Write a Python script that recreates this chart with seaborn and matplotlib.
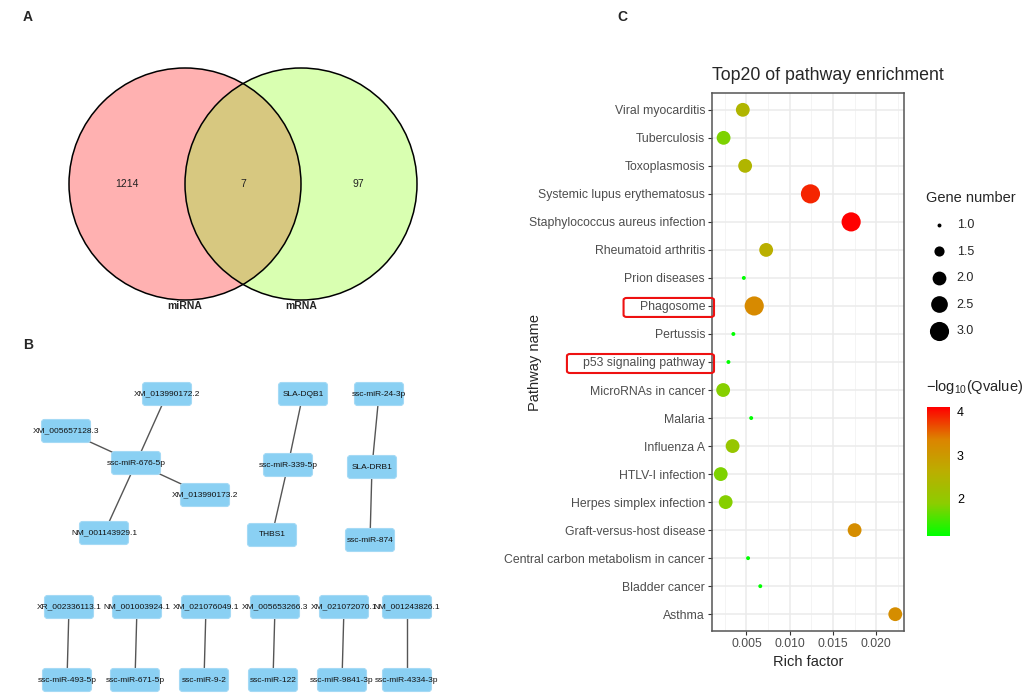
import numpy as np
import pandas as pd
import matplotlib
matplotlib.use('Agg')
import matplotlib.pyplot as plt
from matplotlib.colors import LinearSegmentedColormap, Normalize
from matplotlib.patches import Circle, FancyBboxPatch
import seaborn as sns

# ---------------- data ----------------
# A: venn
venn_sets = ['miRNA', 'mRNA']
venn_counts = [1214, 7, 97]  # only miRNA, both, only mRNA

# B: miRNA-mRNA network (edges)
net_edges = [
    ('ssc-miR-676-5p', 'XM_013990172.2'),
    ('ssc-miR-676-5p', 'XM_005657128.3'),
    ('ssc-miR-676-5p', 'XM_013990173.2'),
    ('ssc-miR-676-5p', 'NM_001143929.1'),
    ('SLA-DQB1', 'ssc-miR-339-5p'),
    ('ssc-miR-339-5p', 'THBS1'),
    ('ssc-miR-24-3p', 'SLA-DRB1'),
    ('SLA-DRB1', 'ssc-miR-874'),
    ('XR_002336113.1', 'ssc-miR-493-5p'),
    ('NM_001003924.1', 'ssc-miR-671-5p'),
    ('XM_021076049.1', 'ssc-miR-9-2'),
    ('XM_005653266.3', 'ssc-miR-122'),
    ('XM_021072070.1', 'ssc-miR-9841-3p'),
    ('NM_001243826.1', 'ssc-miR-4334-3p'),
]

# C: pathway enrichment
pathways = ['Viral myocarditis', 'Tuberculosis', 'Toxoplasmosis',
            'Systemic lupus erythematosus', 'Staphylococcus aureus infection',
            'Rheumatoid arthritis', 'Prion diseases', 'Phagosome', 'Pertussis',
            'p53 signaling pathway', 'MicroRNAs in cancer', 'Malaria',
            'Influenza A', 'HTLV-I infection', 'Herpes simplex infection',
            'Graft-versus-host disease', 'Central carbon metabolism in cancer',
            'Bladder cancer', 'Asthma']
rich_factor = [0.00458, 0.00236, 0.00485, 0.0124, 0.0171, 0.00728, 0.0047,
               0.0059, 0.00349, 0.00292, 0.00231, 0.00555, 0.0034, 0.00203,
               0.0026, 0.0175, 0.00519, 0.0066, 0.0222]
gene_number = [2, 2, 2, 3, 3, 2, 1, 3, 1, 1, 2, 1, 2, 2, 2, 2, 1, 1, 2]
neg_log_q = [2.45, 1.8, 2.45, 3.9, 4.11, 2.6, 1.13, 3.25, 1.13, 1.13, 1.85,
             1.13, 2.05, 1.8, 1.85, 3.2, 1.13, 1.13, 3.2]
highlighted = ['Phagosome', 'p53 signaling pathway']

# ---------------- layout (pixel coords for panels A/B) ----------------
node_pos = {
    'XM_013990172.2': (167, 394), 'XM_005657128.3': (66, 431),
    'ssc-miR-676-5p': (136, 463), 'XM_013990173.2': (205, 495),
    'NM_001143929.1': (104, 533),
    'SLA-DQB1': (303, 394), 'ssc-miR-339-5p': (288, 465), 'THBS1': (272, 535),
    'ssc-miR-24-3p': (379, 394), 'SLA-DRB1': (372, 467), 'ssc-miR-874': (370, 540),
    'XR_002336113.1': (69, 607), 'ssc-miR-493-5p': (67, 680),
    'NM_001003924.1': (137, 607), 'ssc-miR-671-5p': (135, 680),
    'XM_021076049.1': (206, 607), 'ssc-miR-9-2': (204, 680),
    'XM_005653266.3': (275, 607), 'ssc-miR-122': (273, 680),
    'XM_021072070.1': (344, 607), 'ssc-miR-9841-3p': (342, 680),
    'NM_001243826.1': (407, 607), 'ssc-miR-4334-3p': (407, 680),
}

sns.set_style('white')
plt.rcParams['font.family'] = ['Liberation Sans', 'DejaVu Sans']
plt.rcParams['mathtext.fontset'] = 'custom'
plt.rcParams['mathtext.rm'] = 'Liberation Sans'

fig = plt.figure(figsize=(10.3, 6.94), dpi=100)

# ---- panels A and B on a pixel canvas ----
ax0 = fig.add_axes([0, 0, 1, 1])
ax0.set_xlim(0, 1030)
ax0.set_ylim(694, 0)
ax0.axis('off')

r = 116
left = Circle((185, 184), r, facecolor='#FFB1B1', edgecolor='none', zorder=1)
right = Circle((301, 184), r, facecolor='#D9FFB1', edgecolor='none', zorder=1)
ax0.add_patch(left)
ax0.add_patch(right)
lens = Circle((301, 184), r, facecolor='#D7C880', edgecolor='none', zorder=2)
ax0.add_patch(lens)
lens.set_clip_path(left)
for cx in (185, 301):
    ax0.add_patch(Circle((cx, 184), r, facecolor='none', edgecolor='black', lw=1.1, zorder=3))
for x, n in zip((127, 243, 358), venn_counts):
    ax0.text(x, 184, str(n), ha='center', va='center', fontsize=7.5, color='#222222', zorder=4)
for x, name in zip((185, 301), venn_sets):
    ax0.text(x, 306, name, ha='center', va='center', fontsize=7.5, fontweight='bold', zorder=4)

for a, b in net_edges:
    (x1, y1), (x2, y2) = node_pos[a], node_pos[b]
    ax0.plot([x1, x2], [y1, y2], color='#555555', lw=1, zorder=1)
w, h = 49, 23
for name, (x, y) in node_pos.items():
    ax0.add_patch(FancyBboxPatch((x - w / 2, y - h / 2), w, h,
                                 boxstyle='round,pad=0,rounding_size=3',
                                 facecolor='#8AD0F3', edgecolor='#A5DAF5', lw=0.8, zorder=2))
    ax0.text(x, y, name, ha='center', va='center', fontsize=6, color='#111111', zorder=3)

for lab, x, y in (('A', 28, 17), ('B', 28, 345), ('C', 622, 17)):
    ax0.text(x, y, lab, ha='center', va='center', fontsize=10, fontweight='bold')

# ---- panel C ----
df = pd.DataFrame({'pathway': pathways, 'rich': rich_factor,
                   'genes': gene_number, 'q': neg_log_q})

cmap = LinearSegmentedColormap.from_list(
    'gr', ['#00FF00', '#8CCD00', '#BBAE00', '#DC8400', '#FF0000'])
qnorm = Normalize(df['q'].min(), df['q'].max())

ax = fig.add_axes([712 / 1030, 1 - 631 / 694, 192 / 1030, 538 / 694])
sns.scatterplot(data=df, x='rich', y='pathway', hue='q', palette=cmap,
                hue_norm=qnorm, size='genes', sizes=(8, 190), size_norm=(1, 3),
                linewidth=0, legend=False, ax=ax, zorder=3)

span = df['rich'].max() - df['rich'].min()
ax.set_xlim(df['rich'].min() - 0.05 * span, df['rich'].max() + 0.05 * span)
ax.set_ylim(len(pathways) - 0.4, -0.6)
ax.set_xticks([0.005, 0.010, 0.015, 0.020])
ax.set_xticklabels(['0.005', '0.010', '0.015', '0.020'])
ax.set_xticks([0.0025, 0.0075, 0.0125, 0.0175, 0.0225], minor=True)
ax.grid(True, which='major', color='#EBEBEB', lw=1.1, zorder=0)
ax.grid(True, which='minor', axis='x', color='#F2F2F2', lw=0.6, zorder=0)
ax.set_axisbelow(True)
ax.tick_params(axis='both', which='major', length=3, width=0.8, color='#333333',
               labelsize=8.8, labelcolor='#4D4D4D', pad=2, direction='out',
               bottom=True, left=True)
ax.tick_params(axis='x', which='minor', length=0)
for s in ax.spines.values():
    s.set_color('#555555')
    s.set_linewidth(1.1)
ax.set_xlabel('')
ax.set_ylabel('')

fig.text(712 / 1030, 1 - 75 / 694, 'Top20 of pathway enrichment', fontsize=12.8,
         ha='left', va='center')
fig.text(808 / 1030, 1 - 662 / 694, 'Rich factor', fontsize=10.5, ha='center', va='center')
fig.text(535 / 1030, 1 - 362 / 694, 'Pathway name', fontsize=10.5, rotation=90,
         ha='center', va='center')

# size legend
handles = [ax.scatter([], [], s=8 + (g - 1) / 2 * (190 - 8), color='black', lw=0)
           for g in (1.0, 1.5, 2.0, 2.5, 3.0)]
leg = fig.legend(handles, ['1.0', '1.5', '2.0', '2.5', '3.0'], title='Gene number',
                 loc='upper left', bbox_to_anchor=(921 / 1030, 1 - 186 / 694),
                 frameon=False, fontsize=9, title_fontsize=10.5, labelspacing=1.15,
                 handletextpad=0.45, borderaxespad=0, alignment='left')

# colour bar
cax = fig.add_axes([927 / 1030, 1 - 536 / 694, 23 / 1030, 129 / 694])
cb = fig.colorbar(plt.cm.ScalarMappable(norm=qnorm, cmap=cmap), cax=cax, ticks=[2, 3, 4])
cb.outline.set_visible(False)
cax.tick_params(which='both', direction='in', color='white', length=4, width=0.8,
                left=True, right=True, labelsize=9, labelcolor='black', pad=5)
cax.minorticks_off()
fig.text(926 / 1030, 1 - 387 / 694, r'$-\mathrm{log}_{10}$(Qvalue)', fontsize=10.5,
         ha='left', va='center')

# red boxes round highlighted labels
fig.canvas.draw()
rend = fig.canvas.get_renderer()
ax_left = ax.get_window_extent(rend).x0
for t in ax.get_yticklabels():
    if t.get_text() in highlighted:
        bb = t.get_window_extent(rend)
        cy = (bb.y0 + bb.y1) / 2
        x0 = bb.x0 - 16
        box = FancyBboxPatch(((x0) / 1030, (cy - 9.5) / 694),
                             (ax_left + 2 - x0) / 1030, 19 / 694,
                             boxstyle='round,pad=0,rounding_size=0.003',
                             transform=fig.transFigure, facecolor='none',
                             edgecolor='#EE1111', lw=1.5, zorder=10)
        fig.patches.append(box)

fig.savefig('out.png', dpi=100)
